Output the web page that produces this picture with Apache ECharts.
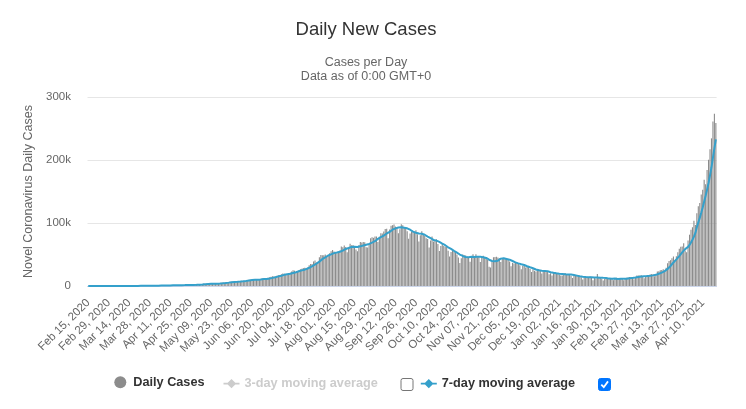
<!DOCTYPE html>
<html>
<head>
<meta charset="utf-8">
<script src="https://cdn.jsdelivr.net/npm/echarts@6/dist/echarts.min.js"></script>
<style>
html,body{margin:0;padding:0;background:#fff;}
#chart{width:746px;height:409px;}
</style>
</head>
<body>
<div id="chart"></div>
<script>
// ---- DATA (values in thousands of cases) ----
const startDate = '2020-02-15';
const monthNames = ['Jan','Feb','Mar','Apr','May','Jun','Jul','Aug','Sep','Oct','Nov','Dec'];
const yTicks = [0, 100, 200, 300];

const dailyCases = [
// Feb 15-29 2020
0,0,0,0,0,0,0,0,0,0,0,0,0,0,0,
// Mar 2020
0,0.002,0.001,0.022,0.002,0.001,0.003,0.005,0.004,0.006,0.011,0.009,0.02,0.011,0.006,0.023,0.014,0.038,0.021,0.05,0.075,0.077,0.105,0.086,0.088,0.075,0.153,0.143,0.106,0.23,0.42,
// Apr 2020
0.55,0.48,0.58,0.61,0.48,0.57,0.57,0.81,0.87,0.85,0.76,1.24,1.03,0.89,1.06,0.92,1.37,1.58,1.24,1.54,1.29,1.67,1.41,1.84,1.61,1.57,1.9,1.71,1.8,2.4,
// May 2020
2.29,2.49,2.57,3.9,2.96,3.56,3.39,3.32,3.28,4.21,3.6,3.53,3.72,3.97,3.97,4.99,5.24,4.97,5.61,5.61,6.09,6.65,6.77,6.98,6.54,6.39,6.57,7.47,7.96,8.38,8.39,
// Jun 2020
8.17,8.91,9.3,9.85,9.89,9.97,9.98,9.99,9.99,10.0,10.96,11.46,11.93,11.5,10.67,10.97,12.88,13.59,14.52,15.41,14.82,14.93,15.97,16.92,17.3,18.55,19.91,19.46,18.52,18.65,
// Jul 2020
19.15,20.9,22.77,24.85,24.25,22.25,22.75,24.88,26.51,27.11,28.64,28.7,28.5,29.43,32.7,34.96,34.88,38.9,40.43,37.15,37.72,45.72,49.31,48.92,48.66,49.93,47.7,48.51,52.12,55.08,57.12,
// Aug 2020
54.74,52.97,52.05,52.51,56.28,62.54,61.54,64.4,62.06,53.6,60.96,67.0,64.55,65.0,63.49,57.98,55.08,64.53,69.65,68.9,69.88,69.24,61.41,60.98,67.15,75.76,77.27,76.47,78.76,78.51,69.92,
// Sep 2020
78.36,83.88,83.34,86.43,90.63,90.8,75.81,89.71,95.74,96.55,97.57,94.37,92.07,83.81,90.12,97.89,96.42,93.34,92.61,86.96,75.08,83.35,86.51,86.05,85.36,88.6,82.17,70.59,80.47,86.82,
// Oct 2020
81.48,79.48,75.83,74.44,61.27,72.05,78.52,70.5,73.27,74.38,66.73,55.34,63.51,67.71,63.37,62.21,61.87,55.72,46.79,54.04,55.84,54.37,53.37,50.13,45.15,36.47,43.89,49.88,48.65,48.27,46.96,
// Nov 2020
45.23,38.31,46.25,50.21,47.64,50.36,45.67,45.9,38.07,44.28,47.91,44.88,44.68,41.1,30.55,29.16,38.62,45.58,45.88,46.23,45.21,44.06,37.98,44.38,44.49,43.08,41.32,41.81,38.77,31.12,
// Dec 2020
36.6,35.55,36.6,36.65,36.01,32.98,26.57,32.08,31.52,29.4,30.01,30.25,27.07,22.07,26.38,24.01,22.89,25.15,26.62,24.34,19.56,23.95,24.71,23.07,22.27,18.73,20.02,16.43,20.55,21.82,20.04,
// Jan 2021
19.08,18.18,16.5,16.38,18.09,20.35,18.14,18.22,18.65,16.31,12.58,15.97,16.95,15.59,15.16,15.14,13.79,10.06,13.82,15.22,14.55,14.26,14.85,13.2,9.1,12.69,11.67,18.86,13.08,13.05,11.43,
// Feb 2021
8.64,11.04,12.9,12.41,11.71,12.06,11.83,9.11,11.07,12.92,9.31,12.14,12.19,11.65,9.12,11.61,12.88,13.19,13.99,14.26,14.2,10.58,13.74,16.74,16.58,16.49,16.75,15.51,
// Mar 2021
12.29,14.99,17.41,16.84,18.33,18.71,18.6,15.39,17.92,22.85,23.29,24.88,25.32,26.29,24.49,28.9,35.87,39.73,40.95,43.85,46.95,40.72,47.26,53.48,59.12,62.26,62.71,68.02,56.21,53.48,72.33,
// Apr 1-19 2021
81.47,89.13,93.25,103.56,96.98,115.74,126.79,131.97,145.38,152.88,168.91,161.74,184.37,200.74,217.35,234.69,261.5,273.81,259.17
];

const movingAvg7 = [
// Feb 15-29 2020
0,0,0,0,0,0,0,0,0,0,0,0,0,0,0,
// Mar 2020
0,0,0,0.004,0.004,0.004,0.004,0.005,0.005,0.006,0.005,0.006,0.008,0.009,0.01,0.012,0.013,0.017,0.019,0.023,0.032,0.043,0.054,0.065,0.072,0.079,0.094,0.104,0.108,0.126,0.174,
// Apr 2020
0.24,0.3,0.36,0.43,0.48,0.53,0.55,0.59,0.64,0.68,0.7,0.81,0.88,0.92,0.96,0.96,1.04,1.16,1.16,1.23,1.29,1.37,1.44,1.51,1.51,1.56,1.61,1.67,1.69,1.83,
// May 2020
1.9,2.02,2.17,2.45,2.63,2.88,3.02,3.17,3.28,3.52,3.47,3.56,3.58,3.66,3.75,4.0,4.15,4.34,4.64,4.91,5.21,5.59,5.85,6.1,6.32,6.43,6.57,6.77,6.95,7.18,7.39,
// Jun 2020
7.62,7.98,8.37,8.71,8.98,9.21,9.44,9.7,9.85,9.95,10.11,10.34,10.62,10.83,10.93,11.07,11.48,11.86,12.29,12.79,13.27,13.87,14.59,15.17,15.7,16.27,16.91,17.58,18.09,18.47,
// Jul 2020
18.79,19.31,19.91,20.61,21.3,21.83,22.42,23.24,24.04,24.66,25.2,25.83,26.73,27.68,28.8,30.01,31.12,32.58,34.26,35.49,36.68,38.54,40.59,42.59,43.99,45.34,46.85,48.39,49.31,50.13,51.3,
// Aug 2020
52.17,52.61,53.23,53.8,54.39,55.46,56.09,57.47,58.77,58.99,60.2,61.73,62.02,62.51,62.38,61.8,62.01,62.52,62.9,63.52,64.22,65.04,65.53,66.37,66.74,67.62,68.81,69.75,71.11,73.56,74.83,
// Sep 2020
76.44,77.6,78.46,79.89,81.58,83.34,84.18,85.8,87.49,89.38,90.97,91.51,91.69,92.83,92.89,93.2,93.18,92.57,92.32,91.59,90.35,89.38,87.75,86.27,85.13,84.56,83.87,83.23,82.82,82.87,
// Oct 2020
82.21,81.37,79.55,78.44,77.11,75.91,74.72,73.16,72.27,72.06,70.96,70.11,68.89,67.35,66.33,64.75,62.96,61.39,60.17,58.82,57.12,55.83,54.57,52.89,51.38,49.91,48.46,47.61,46.79,46.06,45.61,
// Nov 2020
45.62,45.88,46.22,46.27,46.12,46.42,46.24,46.33,46.3,46.02,45.69,45.3,44.48,43.83,41.64,40.37,39.56,39.22,39.37,39.59,40.18,42.11,43.37,44.19,44.03,43.63,42.93,42.45,41.69,40.71,
// Dec 2020
39.6,38.32,37.4,36.73,35.9,35.07,34.42,33.78,33.2,32.17,31.22,30.4,29.56,28.91,28.1,27.03,26.1,25.4,24.88,24.49,24.14,23.79,23.89,23.91,23.5,22.38,21.76,21.31,20.83,20.41,19.98,
// Jan 2021
19.52,19.45,18.94,18.94,18.58,18.37,18.1,17.98,18.05,18.02,17.48,17.17,16.69,16.32,15.89,15.39,15.03,14.67,14.36,14.11,13.96,13.83,13.79,13.71,13.57,13.41,12.9,13.52,13.35,13.09,12.84,
// Feb 2021
12.77,12.54,12.71,11.79,11.6,11.46,11.51,11.58,11.58,11.59,11.14,11.21,11.22,11.2,11.2,11.28,11.27,11.83,12.09,12.39,12.75,12.96,13.26,13.81,14.3,14.66,15.01,15.2,
// Mar 2021
15.44,15.62,15.72,15.75,16.02,16.3,16.74,17.18,17.6,18.38,19.3,20.23,21.18,22.28,23.58,25.15,27.01,29.35,31.65,34.3,37.25,39.57,42.19,44.71,47.48,50.52,53.21,56.22,58.44,59.33,62.02,
// Apr 1-19 2021
65.21,69.05,73.41,78.49,84.31,93.21,100.99,108.2,116.24,124.76,134.09,143.34,153.15,163.71,175.91,188.67,204.19,219.17,233.09
];

const movingAvg3 = []; // hidden series (legend unchecked)

// category labels: one per day from startDate
const t0 = Date.parse(startDate + 'T00:00:00Z');
const categories = dailyCases.map(function (_, i) {
  const d = new Date(t0 + i * 86400000);
  return monthNames[d.getUTCMonth()] + ' ' + String(d.getUTCDate()).padStart(2, '0') + ', ' + d.getUTCFullYear();
});

// ---- CHART ----
const FONT = '"Liberation Sans", Arial, sans-serif';
const LINE_COLOR = '#34a0cb';
const BAR_COLOR = '#8c8c8c';
const lineIcon = 'path://M0,3.8H4.2L8,0L11.8,3.8H16V5.4H11.8L8,9.2L4.2,5.4H0Z';

const chart = echarts.init(document.getElementById('chart'), null, {renderer: 'canvas'});
const legendText = {fontFamily: FONT, fontSize: 12.7, fontWeight: 'bold', color: '#333333'};

chart.setOption({
  animation: false,
  backgroundColor: '#ffffff',
  textStyle: {fontFamily: FONT},
  title: [
    {text: 'Daily New Cases', left: 366, top: 20.5, padding: 0, textAlign: 'center',
     textStyle: {fontFamily: FONT, fontSize: 18.5, fontWeight: 'normal', color: '#333333'}},
    {text: 'Cases per Day\nData as of 0:00 GMT+0', left: 366, top: 55.5, padding: 0, textAlign: 'center',
     textStyle: {fontFamily: FONT, fontSize: 12.5, fontWeight: 'normal', color: '#666666', lineHeight: 13.8}}
  ],
  grid: {left: 87.5, right: 29.4, top: 97.3, bottom: 123.1, containLabel: false, outerBoundsMode: 'none'},
  legend: [
    {data: [{name: 'Daily Cases', icon: 'circle'}], left: 114.3, top: 375.7, padding: 0,
     itemWidth: 16, itemHeight: 12, textStyle: legendText, inactiveColor: '#cccccc'},
    {data: [{name: '3-day moving average', icon: lineIcon}], left: 223.5, top: 377.1, padding: 0,
     itemWidth: 16, itemHeight: 9.2, textStyle: legendText, inactiveColor: '#cccccc',
     selected: {'3-day moving average': false}},
    {data: [{name: '7-day moving average', icon: lineIcon}], left: 420.8, top: 377.1, padding: 0,
     itemWidth: 16, itemHeight: 9.2, textStyle: legendText, inactiveColor: '#cccccc'}
  ],
  xAxis: {
    type: 'category',
    data: categories,
    boundaryGap: true,
    axisLine: {show: true, lineStyle: {color: '#ccd6eb', width: 1}},
    axisTick: {show: false},
    splitLine: {show: false},
    axisLabel: {interval: 13, rotate: 45, margin: 15, color: '#666666', fontSize: 11.5, fontFamily: FONT, hideOverlap: false}
  },
  yAxis: {
    type: 'value',
    min: yTicks[0],
    max: yTicks[yTicks.length - 1],
    interval: 100,
    name: 'Novel Coronavirus Daily Cases',
    nameLocation: 'middle',
    nameRotate: 90,
    nameGap: 52.5,
    nameTextStyle: {color: '#666666', fontSize: 12.5, fontFamily: FONT},
    axisLine: {show: false},
    axisTick: {show: false},
    splitLine: {show: true, lineStyle: {color: '#e6e6e6', width: 1}},
    axisLabel: {margin: 16.5, color: '#666666', fontSize: 11.5, fontFamily: FONT,
      formatter: function (v) { return v === 0 ? '0' : v + 'k'; }}
  },
  series: [
    {name: 'Daily Cases', type: 'bar', data: dailyCases, barWidth: 1.1,
     itemStyle: {color: BAR_COLOR}, emphasis: {disabled: true}, z: 2},
    {name: '3-day moving average', type: 'line', data: movingAvg3, showSymbol: false,
     itemStyle: {color: '#cccccc'}, lineStyle: {width: 2, color: '#cccccc'}, z: 3},
    {name: '7-day moving average', type: 'line', data: movingAvg7, showSymbol: false, symbol: 'none',
     itemStyle: {color: LINE_COLOR}, lineStyle: {width: 2, color: LINE_COLOR}, z: 4}
  ],
  graphic: [
    {type: 'rect', shape: {x: 401, y: 378.5, width: 12, height: 12, r: 2},
     style: {fill: '#ffffff', stroke: '#767676', lineWidth: 1}},
    {type: 'rect', shape: {x: 598.5, y: 378.5, width: 12, height: 12, r: 2},
     style: {fill: '#0075ff', stroke: '#0075ff', lineWidth: 1}},
    {type: 'polyline', shape: {points: [[601.3, 384.6], [603.8, 387.2], [608, 381.4]]},
     style: {stroke: '#ffffff', lineWidth: 1.8, fill: null}}
  ]
});
</script>
</body>
</html>
